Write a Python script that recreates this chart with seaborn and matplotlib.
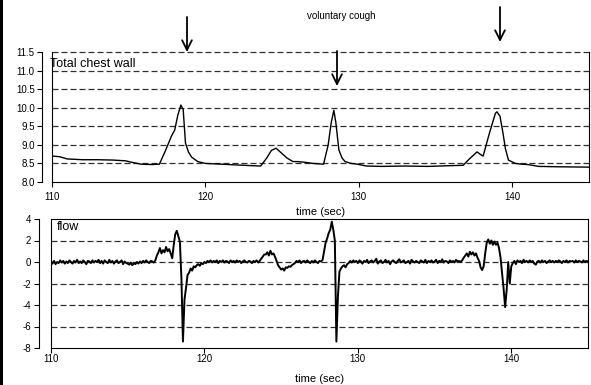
import numpy as np
import pandas as pd
import matplotlib
matplotlib.use('Agg')
import matplotlib.pyplot as plt
import seaborn as sns
from matplotlib.patches import FancyArrowPatch, Rectangle

# ── data ─────────────────────────────────────────────────────
# Total chest wall volume trace
chest_t = [110.0, 110.5, 111.0, 112.0, 113.0, 114.0, 114.8, 115.2, 115.8, 116.5,
           117.0, 117.4, 117.8, 118.0, 118.2, 118.4, 118.55, 118.7, 118.9, 119.1,
           119.5, 120.0, 121.0, 122.0, 123.0, 123.6, 124.0, 124.3, 124.6, 124.9,
           125.3, 125.7, 126.0, 126.5, 127.0, 127.7, 128.0, 128.2, 128.37, 128.5,
           128.7, 128.9, 129.1, 129.5, 129.9, 130.5, 131.5, 133.0, 134.5, 136.0,
           136.8, 137.2, 137.7, 138.0, 138.1, 138.5, 138.9, 139.0, 139.2, 139.4,
           139.55, 139.75, 140.2, 140.6, 141.0, 141.3, 141.7, 143.0, 145.0]
chest_v = [8.70, 8.68, 8.62, 8.60, 8.60, 8.59, 8.57, 8.53, 8.48, 8.47,
           8.48, 8.85, 9.25, 9.40, 9.80, 10.07, 9.95, 9.05, 8.80, 8.67,
           8.55, 8.50, 8.48, 8.46, 8.44, 8.43, 8.65, 8.85, 8.91, 8.80,
           8.65, 8.55, 8.55, 8.53, 8.50, 8.48, 9.00, 9.60, 9.93, 9.60,
           8.86, 8.65, 8.55, 8.50, 8.48, 8.43, 8.42, 8.43, 8.42, 8.44,
           8.45, 8.62, 8.81, 8.72, 8.70, 9.30, 9.85, 9.89, 9.77, 9.30,
           8.90, 8.59, 8.50, 8.48, 8.47, 8.45, 8.42, 8.41, 8.40]

# flow trace, one row per second, sampled every 0.1 s from 110.0 s
flow_v = [
    0.05, -0.15, 0.10, -0.20, 0.00, -0.10, 0.15, -0.05, 0.10, -0.15,   # 110
    0.05, -0.10, 0.15, 0.00, -0.15, 0.10, -0.05, 0.20, -0.10, 0.05,    # 111
    -0.10, 0.15, 0.00, -0.20, 0.10, 0.05, -0.10, 0.15, -0.05, 0.10,    # 112
    0.00, 0.20, -0.10, 0.10, -0.15, 0.15, 0.00, -0.10, 0.20, -0.05,    # 113
    0.10, -0.15, 0.05, 0.15, -0.10, 0.00, 0.15, -0.20, 0.05, -0.10,    # 114
    -0.15, -0.25, -0.05, -0.30, -0.10, -0.20, 0.00, -0.15, 0.05, -0.10,  # 115
    0.10, -0.05, 0.15, 0.00, -0.10, 0.10, 0.05, -0.05, 0.15, 0.60,     # 116
    0.90, 1.30, 0.80, 1.10, 0.90, 1.40, 1.00, 1.20, 0.80, 0.35,        # 117
    1.60, 2.60, 2.90, 2.40, 1.90, -1.50, -7.40, -3.50, -2.40, -1.20,   # 118
    -1.00, -0.60, -0.80, -0.40, -0.50, -0.30, -0.20, -0.35, -0.10, -0.20,  # 119
    0.00, -0.10, 0.10, 0.00, 0.15, -0.05, 0.10, 0.00, 0.15, -0.10,     # 120
    0.10, 0.00, 0.15, -0.05, 0.10, 0.05, -0.10, 0.15, 0.00, 0.10,      # 121
    -0.05, 0.15, 0.00, 0.10, -0.10, 0.05, 0.15, 0.00, -0.05, 0.10,     # 122
    0.05, -0.10, 0.10, 0.00, 0.15, -0.05, 0.10, 0.30, 0.50, 0.70,      # 123
    0.70, 0.90, 0.60, 1.05, 0.70, 0.80, 0.50, 0.10, -0.30, -0.50,      # 124
    -0.70, -0.60, -0.80, -0.50, -0.55, -0.40, -0.45, -0.30, -0.20, -0.10,  # 125
    0.10, 0.00, 0.15, -0.10, 0.05, 0.10, -0.05, 0.15, 0.00, -0.10,     # 126
    0.10, -0.05, 0.15, 0.00, -0.10, 0.10, 0.05, 0.20, 1.00, 1.80,      # 127
    2.20, 2.70, 3.00, 3.75, 3.00, 2.00, -7.40, -3.20, -0.90, -0.60,    # 128
    -0.40, -0.30, -0.50, -0.20, -0.10, 0.10, -0.05, 0.15, 0.00, 0.10,  # 129
    -0.10, 0.15, 0.05, -0.15, 0.10, 0.00, 0.20, -0.10, 0.05, 0.15,     # 130
    -0.05, 0.10, 0.30, -0.15, 0.05, 0.15, -0.10, 0.00, 0.20, -0.05,    # 131
    0.10, -0.20, 0.05, 0.15, 0.00, -0.10, 0.10, 0.25, -0.05, 0.05,     # 132
    0.15, -0.10, 0.00, 0.10, -0.15, 0.20, 0.05, -0.05, 0.10, 0.00,     # 133
    -0.10, 0.15, 0.05, -0.05, 0.20, -0.10, 0.10, 0.00, 0.15, -0.05,    # 134
    0.05, 0.20, -0.10, 0.10, 0.00, 0.25, -0.05, 0.10, 0.05, -0.10,     # 135
    0.15, 0.00, 0.10, -0.05, 0.20, 0.05, 0.10, 0.00, 0.15, 0.40,       # 136
    0.60, 0.80, 0.50, 0.95, 0.70, 0.90, 0.60, 0.80, 0.40, 0.10,        # 137
    -0.50, -0.75, -0.40, 0.80, 1.80, 2.10, 1.70, 2.00, 1.60, 1.90,     # 138
    1.60, 1.80, 1.30, 0.40, -1.00, -2.50, -4.20, -2.60, 0.00, -2.00,   # 139
    -0.40, -0.10, 0.10, -0.20, 0.15, 0.00, 0.10, -0.10, 0.20, 0.00,    # 140
    0.10, -0.05, 0.15, 0.00, 0.10, -0.15, -0.25, 0.05, 0.10, -0.05,    # 141
    0.15, 0.00, 0.10, -0.10, 0.05, 0.15, 0.00, 0.10, -0.05, 0.10,      # 142
    0.00, 0.15, 0.05, -0.10, 0.10, 0.00, 0.15, -0.05, 0.10, 0.05,      # 143
    0.10, -0.05, 0.15, 0.00, 0.10, 0.05, -0.05, 0.15, 0.00, 0.10,      # 144
    0.05,                                                              # 145
]
FLOW_START, FLOW_STEP = 110.0, 0.1
flow_t = np.round(FLOW_START + FLOW_STEP * np.arange(len(flow_v)), 2)

x_ticks = [110, 120, 130, 140]
chest_yticks = [8.0, 8.5, 9.0, 9.5, 10.0, 10.5, 11.0, 11.5]
flow_yticks = [-8, -6, -4, -2, 0, 2, 4]

chest = pd.DataFrame({'t': chest_t, 'v': chest_v})
flow = pd.DataFrame({'t': flow_t, 'v': flow_v})

# ── style ────────────────────────────────────────────────────
sns.set_theme(style='white')
plt.rcParams['font.family'] = ['Liberation Sans', 'DejaVu Sans']
plt.rcParams['axes.unicode_minus'] = False
plt.rcParams['text.color'] = 'black'
plt.rcParams['axes.labelcolor'] = 'black'
plt.rcParams['xtick.color'] = 'black'
plt.rcParams['ytick.color'] = 'black'

GRID = dict(color='#303030', lw=0.9, linestyle=(0, (4.8, 2.4)))
TICK_FS = 7

fig = plt.figure(figsize=(5.91, 3.85), dpi=100)
ax1 = fig.add_axes([52 / 591, 1 - 182 / 385, 537 / 591, 130 / 385])
ax2 = fig.add_axes([51 / 591, 1 - 348 / 385, 537 / 591, 129 / 385])

# ── upper: total chest wall ──────────────────────────────────
sns.lineplot(data=chest, x='t', y='v', ax=ax1, color='black', lw=1.0)
ax1.set_xlim(110, 145)
ax1.set_ylim(8.0, 11.5)
ax1.set_xticks(x_ticks)
ax1.set_yticks(chest_yticks)
ax1.set_yticklabels([f'{v:.1f}' for v in chest_yticks])
ax1.set_xlabel('time (sec)', fontsize=8, labelpad=4)
ax1.set_ylabel('')
for v in chest_yticks[1:]:
    ax1.axhline(v, zorder=0, clip_on=False, **GRID)
ax1.spines['top'].set_visible(False)
ax1.spines['left'].set_position(('outward', 7))
ax1.text(-0.004, 0.908, 'Total chest wall', transform=ax1.transAxes,
         fontsize=9, va='center', ha='left')

# ── lower: flow ──────────────────────────────────────────────
sns.lineplot(data=flow, x='t', y='v', ax=ax2, color='black', lw=1.4)
ax2.set_xlim(110, 145)
ax2.set_ylim(-8, 4)
ax2.set_xticks(x_ticks)
ax2.set_yticks(flow_yticks)
ax2.set_xlabel('time (sec)', fontsize=8, labelpad=7)
ax2.set_ylabel('')
for v in flow_yticks[1:-1]:
    ax2.axhline(v, zorder=0, **GRID)
ax2.spines['left'].set_position(('outward', 9))
ax2.text(0.011, 0.938, 'flow', transform=ax2.transAxes,
         fontsize=9, va='center', ha='left')

for ax, pad in ((ax1, 3.5), (ax2, 0.8)):
    for s in ax.spines.values():
        s.set_color('black')
        s.set_linewidth(0.8)
    # plot-area border next to the offset y axis
    ax.plot([0, 0], [0, 1], transform=ax.transAxes, color='black',
            lw=0.8, clip_on=False)
    ax.tick_params(axis='both', which='major', bottom=True, left=True,
                   direction='out', length=3.5, width=0.8,
                   labelsize=TICK_FS)
    ax.tick_params(axis='x', pad=pad)
    ax.tick_params(axis='y', pad=2)

# ── annotations ──────────────────────────────────────────────
fig.text(341.5 / 591, 1 - 16 / 385, 'voluntary cough', fontsize=7,
         ha='center', va='center')

arrows = [((187, 17), (187, 52)), ((337, 51), (337, 86)), ((500, 7), (500, 42))]
for (x0, y0), (x1, y1) in arrows:
    fig.add_artist(FancyArrowPatch(
        (x0 / 591, 1 - y0 / 385), (x1 / 591, 1 - y1 / 385),
        transform=fig.transFigure, arrowstyle='->, head_length=0.7, head_width=0.35',
        mutation_scale=10, lw=1.3, color='black', shrinkA=0, shrinkB=0))

# thick left border of the original frame
fig.add_artist(Rectangle((0, 0), 3 / 591, 1, transform=fig.transFigure,
                         color='black', lw=0))

fig.savefig('out.png', dpi=100)
